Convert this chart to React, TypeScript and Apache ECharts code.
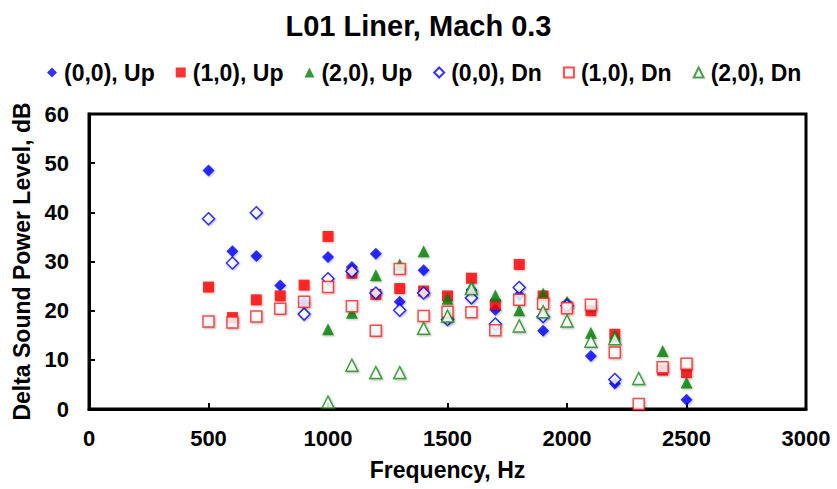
import React, { useEffect, useRef } from "react";
import * as echarts from "echarts";

const freqs = [500, 600, 700, 800, 900, 1000, 1100, 1200, 1300, 1400, 1500, 1600, 1700, 1800, 1900, 2000, 2100, 2200, 2300, 2400, 2500];

const up00 = [48.5, 32.1, 31.1, 25.1, 21.6, 30.9, 28.9, 31.6, 21.8, 28.2, 18.4, 24.2, 20.2, 23.2, 15.9, 21.5, 10.8, 5.2, null, null, 1.9];
const up10 = [24.8, 18.6, 22.2, 23.0, 25.2, 35.1, 27.6, 23.3, 24.5, 24.0, 23.0, 26.6, 21.3, 29.4, 23.0, 20.8, 20.0, 15.2, null, 7.9, 7.4];
const up20 = [null, null, null, null, null, 16.2, 19.6, 27.2, 29.4, 32.1, 22.4, 24.8, 23.1, 20.1, 23.5, 21.8, 15.5, 14.9, null, 11.8, 5.4];
const dn00 = [38.7, 29.7, 39.9, null, 19.3, 26.5, 28.0, 23.6, 20.1, 23.6, 18.2, 22.6, 17.3, 24.7, 18.8, 21.0, null, 6.0, null, null, null];
const dn10 = [17.8, 17.6, 18.8, 20.4, 21.8, 24.8, 20.9, 15.9, 28.5, 18.9, 19.8, 19.7, 16.0, 22.2, 21.4, 20.5, 21.2, 11.5, 1.0, 8.5, 9.2];
const dn20 = [null, null, null, null, null, 1.4, 8.9, 7.4, 7.4, 16.4, 18.9, 24.5, null, 16.9, 19.8, 17.9, 13.8, 14.3, 6.2, null, null];

const seriesNames = ["(0,0), Up", "(1,0), Up", "(2,0), Up", "(0,0), Dn", "(1,0), Dn", "(2,0), Dn"];
const xTicks = [0, 500, 1000, 1500, 2000, 2500, 3000];
const yTicks = [0, 10, 20, 30, 40, 50, 60];

const FONT = "'Liberation Sans', Arial, sans-serif";

function pairs(vals: (number | null)[]) {
  const out: [number, number][] = [];
  vals.forEach((v, i) => {
    if (v !== null) out.push([freqs[i], v]);
  });
  return out;
}

export default function App() {
  const ref = useRef<HTMLDivElement>(null);
  useEffect(() => {
    if (!ref.current) return;
    const chart = echarts.init(ref.current, undefined, { renderer: "svg" });
    const shadow = {
      shadowColor: "rgba(0,0,0,0.35)",
      shadowBlur: 2,
      shadowOffsetX: 1,
      shadowOffsetY: 1,
    };
    const defs = [
      { data: up00, symbol: "diamond", size: 12, filled: true, color: "#0000ff" },
      { data: up10, symbol: "rect", size: 11, filled: true, color: "#ff0000" },
      { data: up20, symbol: "triangle", size: 12, filled: true, color: "#008000" },
      { data: dn00, symbol: "diamond", size: 12, filled: false, color: "#0000ff" },
      { data: dn10, symbol: "rect", size: 11, filled: false, color: "#ff2020" },
      { data: dn20, symbol: "triangle", size: 12, filled: false, color: "#1a8a1a" },
    ];
    chart.setOption({
      animation: false,
      backgroundColor: "#ffffff",
      title: {
        text: "L01 Liner, Mach 0.3",
        left: "center",
        top: 6,
        textStyle: { fontFamily: FONT, fontWeight: "bold", fontSize: 29, color: "#000" },
      },
      legend: {
        top: 56,
        left: 42,
        itemWidth: 10,
        itemHeight: 10,
        itemGap: 21,
        textStyle: { fontFamily: FONT, fontWeight: "bold", fontSize: 23, color: "#000", padding: [0, 0, 0, 2] },
        data: seriesNames.map((n) => ({ name: n })),
      },
      grid: {
        left: 89,
        right: 31,
        top: 114,
        bottom: 80,
        show: true,
        borderColor: "#000",
        borderWidth: 3,
        backgroundColor: "#fff",
      },
      xAxis: {
        type: "value",
        min: xTicks[0],
        max: xTicks[xTicks.length - 1],
        interval: 500,
        name: "Frequency, Hz",
        nameLocation: "middle",
        nameGap: 49,
        nameTextStyle: { fontFamily: FONT, fontWeight: "bold", fontSize: 23, color: "#000" },
        axisLine: { lineStyle: { color: "#000", width: 3 } },
        axisTick: { inside: true, length: 6, lineStyle: { color: "#000", width: 2 } },
        axisLabel: {
          margin: 18,
          fontFamily: FONT,
          fontWeight: "bold",
          fontSize: 22,
          color: "#000",
          formatter: (v: number) => String(v),
        },
        splitLine: { show: false },
      },
      yAxis: {
        type: "value",
        min: yTicks[0],
        max: yTicks[yTicks.length - 1],
        interval: 10,
        name: "Delta Sound Power Level, dB",
        nameLocation: "middle",
        nameGap: 56,
        nameTextStyle: { fontFamily: FONT, fontWeight: "bold", fontSize: 23, color: "#000" },
        axisLine: { lineStyle: { color: "#000", width: 3 } },
        axisTick: { inside: true, length: 6, lineStyle: { color: "#000", width: 2 } },
        axisLabel: {
          margin: 20,
          fontFamily: FONT,
          fontWeight: "bold",
          fontSize: 22,
          color: "#000",
          formatter: (v: number) => String(v),
        },
        splitLine: { show: false },
      },
      series: defs.map((d, i) => ({
        name: seriesNames[i],
        type: "scatter",
        symbol: d.symbol,
        symbolSize: d.size,
        data: pairs(d.data),
        itemStyle: d.filled
          ? { color: d.color, ...shadow }
          : { color: "#ffffff", borderColor: d.color, borderWidth: 1.5, ...shadow },
        emphasis: { disabled: true },
      })),
    });
    return () => chart.dispose();
  }, []);
  return (
    <div
      ref={ref}
      style={{ position: "fixed", left: 0, top: 0, width: 837, height: 489 }}
    />
  );
}
